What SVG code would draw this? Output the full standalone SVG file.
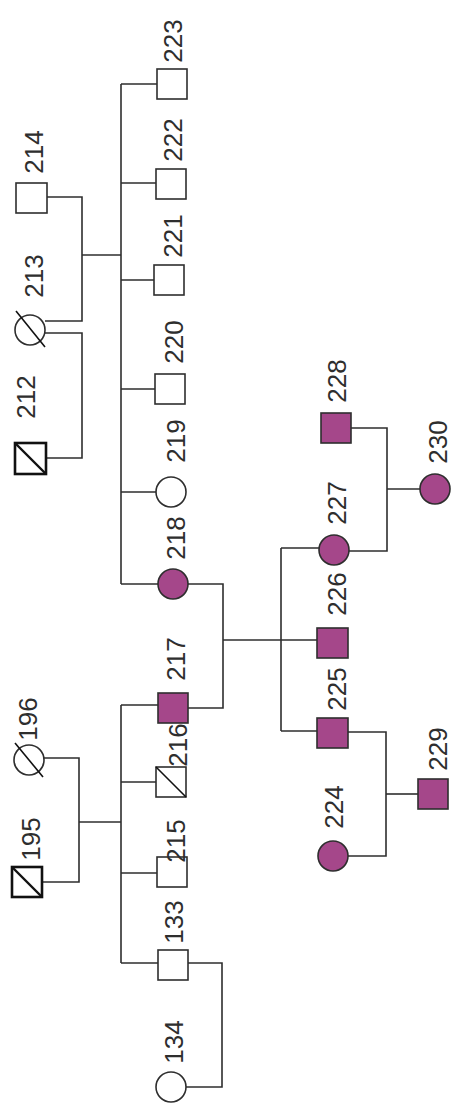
<svg xmlns="http://www.w3.org/2000/svg" width="452" height="1113" viewBox="0 0 452 1113">
  <style>
    .ln { fill: none; stroke: #2e2e2e; stroke-width: 1.6; }
    .m { fill: #fff; stroke: #2e2e2e; stroke-width: 1.6; }
    .a { fill: #a5478a; stroke: #2e2e2e; stroke-width: 1.6; }
    .d { fill: #fff; stroke: #111; stroke-width: 2.6; }
    .s { stroke: #111; stroke-width: 1.6; }
    .sb { stroke: #111; stroke-width: 2.4; }
    text { font-family: "Liberation Sans", Arial, sans-serif; font-size: 26px; fill: #2e2e2e; text-anchor: middle; }
  </style>
  <rect width="452" height="1113" fill="#fff"/>

  <!-- lines of descent and mating -->
  <g id="connectors">
    <path class="ln" d="M47,197 H82 V321 H45"/>
    <path class="ln" d="M45,333 H82 V458 H46"/>
    <path class="ln" d="M82,255 H121"/>
    <path class="ln" d="M121,84 V584"/>
    <path class="ln" d="M121,84 H157 M121,183 H156 M121,280 H154 M121,389 H155 M121,492 H156 M121,584 H158"/>
    <path class="ln" d="M188,584 H223 V708 H188"/>
    <path class="ln" d="M223,640 H317"/>
    <path class="ln" d="M281,548 V731 M281,548 H319 M281,731 H317"/>
    <path class="ln" d="M349,551 H387 V428 H351"/>
    <path class="ln" d="M387,489 H420"/>
    <path class="ln" d="M348,732 H386 V856 H348"/>
    <path class="ln" d="M386,794 H418"/>
    <path class="ln" d="M44,758 H79 V882 H42"/>
    <path class="ln" d="M79,822 H121"/>
    <path class="ln" d="M121,705 V963 M121,705 H158 M121,782 H156 M121,873 H157 M121,963 H158"/>
    <path class="ln" d="M188,963 H222 V1087 H186"/>
  </g>

  <g id="n223"><rect class="m" x="157" y="69" width="30" height="30"/><text transform="translate(182,41) rotate(-90)">223</text></g>
  <g id="n222"><rect class="m" x="156" y="169" width="30" height="30"/><text transform="translate(182,140) rotate(-90)">222</text></g>
  <g id="n221"><rect class="m" x="154" y="265" width="30" height="30"/><text transform="translate(182,236) rotate(-90)">221</text></g>
  <g id="n220"><rect class="m" x="155" y="374" width="30" height="30"/><text transform="translate(183,342) rotate(-90)">220</text></g>
  <g id="n219"><circle class="m" cx="171" cy="492" r="15"/><text transform="translate(185,441) rotate(-90)">219</text></g>
  <g id="n218"><circle class="a" cx="173" cy="584" r="15"/><text transform="translate(185,538) rotate(-90)">218</text></g>
  <g id="n217"><rect class="a" x="158" y="693" width="30" height="30"/><text transform="translate(185,659) rotate(-90)">217</text></g>
  <g id="n216"><rect class="m" x="156" y="767" width="30" height="30"/><line class="s" x1="156" y1="767" x2="186" y2="797"/><text transform="translate(187,745) rotate(-90)">216</text></g>
  <g id="n215"><rect class="m" x="157" y="857" width="30" height="30"/><text transform="translate(185,841) rotate(-90)">215</text></g>
  <g id="n133"><rect class="m" x="158" y="950" width="30" height="30"/><text transform="translate(183,922) rotate(-90)">133</text></g>
  <g id="n134"><circle class="m" cx="171" cy="1087" r="15"/><text transform="translate(183,1042) rotate(-90)">134</text></g>

  <g id="n214"><rect class="m" x="16" y="183" width="31" height="30"/><text transform="translate(43,152) rotate(-90)">214</text></g>
  <g id="n213"><circle class="m" cx="30" cy="330" r="15"/><line class="s" x1="16" y1="311" x2="45" y2="347"/><text transform="translate(43,276) rotate(-90)">213</text></g>
  <g id="n212"><rect class="d" x="15" y="443" width="31" height="31"/><line class="sb" x1="15" y1="443" x2="46" y2="474"/><text transform="translate(35,397) rotate(-90)">212</text></g>
  <g id="n196"><circle class="m" cx="29" cy="760" r="15"/><line class="s" x1="15" y1="743" x2="43" y2="777"/><text transform="translate(37,719) rotate(-90)">196</text></g>
  <g id="n195"><rect class="d" x="12" y="867" width="30" height="30"/><line class="sb" x1="12" y1="867" x2="42" y2="897"/><text transform="translate(40,839) rotate(-90)">195</text></g>

  <g id="n228"><rect class="a" x="321" y="413" width="30" height="30"/><text transform="translate(346,381) rotate(-90)">228</text></g>
  <g id="n230"><circle class="a" cx="435" cy="489" r="15"/><text transform="translate(447,442) rotate(-90)">230</text></g>
  <g id="n227"><circle class="a" cx="334" cy="550" r="15"/><text transform="translate(346,503) rotate(-90)">227</text></g>
  <g id="n226"><rect class="a" x="317" y="628" width="31" height="30"/><text transform="translate(346,594) rotate(-90)">226</text></g>
  <g id="n225"><rect class="a" x="317" y="718" width="31" height="30"/><text transform="translate(346,689) rotate(-90)">225</text></g>
  <g id="n229"><rect class="a" x="418" y="779" width="30" height="30"/><text transform="translate(447,749) rotate(-90)">229</text></g>
  <g id="n224"><circle class="a" cx="333" cy="856" r="15"/><text transform="translate(343,807) rotate(-90)">224</text></g>
</svg>
